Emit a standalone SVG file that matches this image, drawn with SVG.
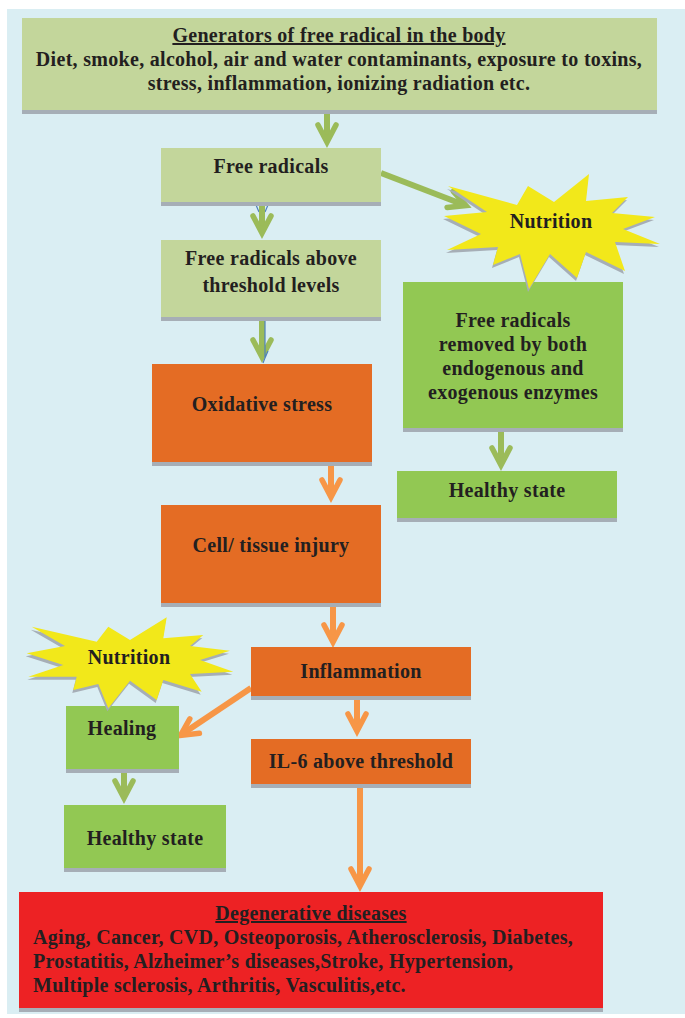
<svg xmlns="http://www.w3.org/2000/svg" width="685" height="1018" viewBox="0 0 685 1018">
  <style>
    text { font-family: "Liberation Serif", "Times New Roman", serif; font-weight: bold; font-size: 20px; letter-spacing: 0.3px; fill: #231f20; text-anchor: middle; }
    .left { text-anchor: start; }
    .ul { text-decoration: underline; }
    .shadow { fill: #a6aeb6; }
    .pale { fill: #c3d69b; }
    .green { fill: #92c853; }
    .orange { fill: #e46c24; }
    .red { fill: #ed2224; }
    .star { fill: #f2e81a; }
    .ga { stroke: #9bbb59; stroke-width: 6; fill: none; }
    .gh { stroke: #9bbb59; stroke-width: 5.5; fill: none; stroke-linecap: round; stroke-linejoin: miter; }
    .oa { stroke: #f79646; stroke-width: 6; fill: none; }
    .oh { stroke: #f79646; stroke-width: 5.5; fill: none; stroke-linecap: round; stroke-linejoin: miter; }
    .blue { stroke: #4f81bd; stroke-width: 1.2; fill: none; }
  </style>

  <!-- page background -->
  <rect x="7" y="9" width="678" height="1005" fill="#daeef3"/>

  <!-- connectors -->
  <g id="connectors">
    <!-- generators -> free radicals -->
    <path class="ga" d="M327 112 V141"/>
    <path class="gh" d="M318 125 L327 142 L336 125"/>
    <!-- free radicals -> above threshold -->
    <path class="blue" d="M256 205 L259 212 M268 205 L265 212"/>
    <path class="ga" d="M262 206 V232"/>
    <path class="gh" d="M253 216 L262 233 L271 216"/>
    <!-- above threshold -> oxidative stress -->
    <path class="ga" d="M262 321 V356"/>
    <path class="gh" d="M253 340 L262 357 L271 340"/>
    <path class="blue" d="M265 318 V358 L263 363 M268 351 L265 358"/>
    <!-- free radicals -> nutrition -->
    <path class="ga" d="M381 173 L463 204.5"/>
    <path class="gh" d="M453.3 191.3 L466 205.5 L447.1 207.5"/>
    <!-- removed by enzymes -> healthy state -->
    <path class="ga" d="M501 432 V464"/>
    <path class="gh" d="M492 448 L501 465 L510 448"/>
    <!-- oxidative stress -> cell injury -->
    <path class="oa" d="M331 466 V496"/>
    <path class="oh" d="M322 480 L331 497 L340 480"/>
    <!-- cell injury -> inflammation -->
    <path class="oa" d="M333 606 V641"/>
    <path class="oh" d="M324 625 L333 642 L342 625"/>
    <!-- inflammation -> IL-6 -->
    <path class="oa" d="M357 700 V730"/>
    <path class="oh" d="M348 714 L357 731 L366 714"/>
    <!-- IL-6 -> degenerative diseases -->
    <path class="oa" d="M360 788 V885"/>
    <path class="oh" d="M351 869 L360 886 L369 869"/>
    <!-- inflammation -> healing -->
    <path class="oa" d="M251 688 L183 733.5"/>
    <path class="oh" d="M199.4 733.3 L180.5 735.5 L189.8 718.9"/>
    <!-- healing -> healthy state -->
    <path class="ga" d="M124 770 V797"/>
    <path class="gh" d="M115 781 L124 798 L133 781"/>
  </g>

  <g id="generators">
    <rect class="shadow" x="22" y="22" width="635" height="92"/>
    <rect class="pale" x="22" y="18" width="635" height="92"/>
    <text class="ul" x="339" y="42">Generators of free radical in the body</text>
    <text x="339" y="66">Diet, smoke, alcohol, air and water contaminants, exposure to toxins,</text>
    <text x="339" y="90">stress, inflammation, ionizing radiation etc.</text>
  </g>

  <g id="free-radicals">
    <rect class="shadow" x="161" y="152" width="220" height="54"/>
    <rect class="pale" x="161" y="148" width="220" height="54"/>
    <text x="271" y="173">Free radicals</text>
  </g>

  <g id="above-threshold">
    <rect class="shadow" x="161" y="244" width="220" height="77"/>
    <rect class="pale" x="161" y="240" width="220" height="77"/>
    <text x="271" y="265">Free radicals above</text>
    <text x="271" y="292">threshold levels</text>
  </g>

  <g id="oxidative-stress">
    <rect class="shadow" x="152" y="368" width="220" height="98"/>
    <rect class="orange" x="152" y="364" width="220" height="98"/>
    <text x="262" y="411">Oxidative stress</text>
  </g>

  <g id="cell-injury">
    <rect class="shadow" x="161" y="509" width="220" height="98"/>
    <rect class="orange" x="161" y="505" width="220" height="98"/>
    <text x="271" y="552">Cell/ tissue injury</text>
  </g>

  <g id="inflammation">
    <rect class="shadow" x="251" y="651" width="220" height="49"/>
    <rect class="orange" x="251" y="647" width="220" height="49"/>
    <text x="361" y="678">Inflammation</text>
  </g>

  <g id="il6">
    <rect class="shadow" x="251" y="743" width="220" height="45"/>
    <rect class="orange" x="251" y="739" width="220" height="45"/>
    <text x="361" y="768">IL-6 above threshold</text>
  </g>

  <g id="removed">
    <rect class="shadow" x="403" y="286" width="220" height="146"/>
    <rect class="green" x="403" y="282" width="220" height="146"/>
    <text x="513" y="327">Free radicals</text>
    <text x="513" y="351">removed by both</text>
    <text x="513" y="375">endogenous and</text>
    <text x="513" y="399">exogenous enzymes</text>
  </g>

  <g id="healthy-right">
    <rect class="shadow" x="397" y="475" width="220" height="47"/>
    <rect class="green" x="397" y="471" width="220" height="47"/>
    <text x="507" y="497">Healthy state</text>
  </g>

  <g id="healing">
    <rect class="shadow" x="66" y="710" width="113" height="63"/>
    <rect class="green" x="66" y="706" width="113" height="63"/>
    <text x="122" y="735">Healing</text>
  </g>

  <g id="healthy-left">
    <rect class="shadow" x="64" y="809" width="162" height="63"/>
    <rect class="green" x="64" y="805" width="162" height="63"/>
    <text x="145" y="845">Healthy state</text>
  </g>

  <g id="nutrition-right">
    <polygon class="shadow" transform="translate(-1 3)" points="448,186 517,205 528,186 554,202 589,174 586,201 628,197 612,213 655,217 623,229 660,244 615,242 625,271 586,252 577,278 550,254 529,289 520,254 493,265 498,247 447,250 481,234 444,216 487,212"/>
    <polygon class="star" points="448,186 517,205 528,186 554,202 589,174 586,201 628,197 612,213 655,217 623,229 660,244 615,242 625,271 586,252 577,278 550,254 529,289 520,254 493,265 498,247 447,250 481,234 444,216 487,212"/>
    <text x="551" y="228">Nutrition</text>
  </g>

  <g id="nutrition-left">
    <polygon class="shadow" transform="translate(-1 3)" points="31.7,626.7 96.7,641.7 108.3,626.7 130,640 166.7,617.3 163.3,638.3 203.3,635 190,646 230,650.7 200,660 233.3,671.7 190,674 201.7,691.7 163.3,680 156.7,700 130,680.7 108.3,708.3 98.3,684 73.3,690 76.7,676.7 28.3,676.7 63.3,665 26.7,653.3 65,646"/>
    <polygon class="star" points="31.7,626.7 96.7,641.7 108.3,626.7 130,640 166.7,617.3 163.3,638.3 203.3,635 190,646 230,650.7 200,660 233.3,671.7 190,674 201.7,691.7 163.3,680 156.7,700 130,680.7 108.3,708.3 98.3,684 73.3,690 76.7,676.7 28.3,676.7 63.3,665 26.7,653.3 65,646"/>
    <text x="129" y="664">Nutrition</text>
  </g>

  <g id="degenerative">
    <rect class="shadow" x="19" y="896" width="584" height="116"/>
    <rect class="red" x="19" y="892" width="584" height="116"/>
    <text class="ul" x="311" y="920">Degenerative diseases</text>
    <text class="left" x="33" y="944">Aging, Cancer, CVD, Osteoporosis, Atherosclerosis, Diabetes,</text>
    <text class="left" x="33" y="968">Prostatitis, Alzheimer’s diseases,Stroke, Hypertension,</text>
    <text class="left" x="33" y="992">Multiple sclerosis, Arthritis, Vasculitis,etc.</text>
  </g>
</svg>
